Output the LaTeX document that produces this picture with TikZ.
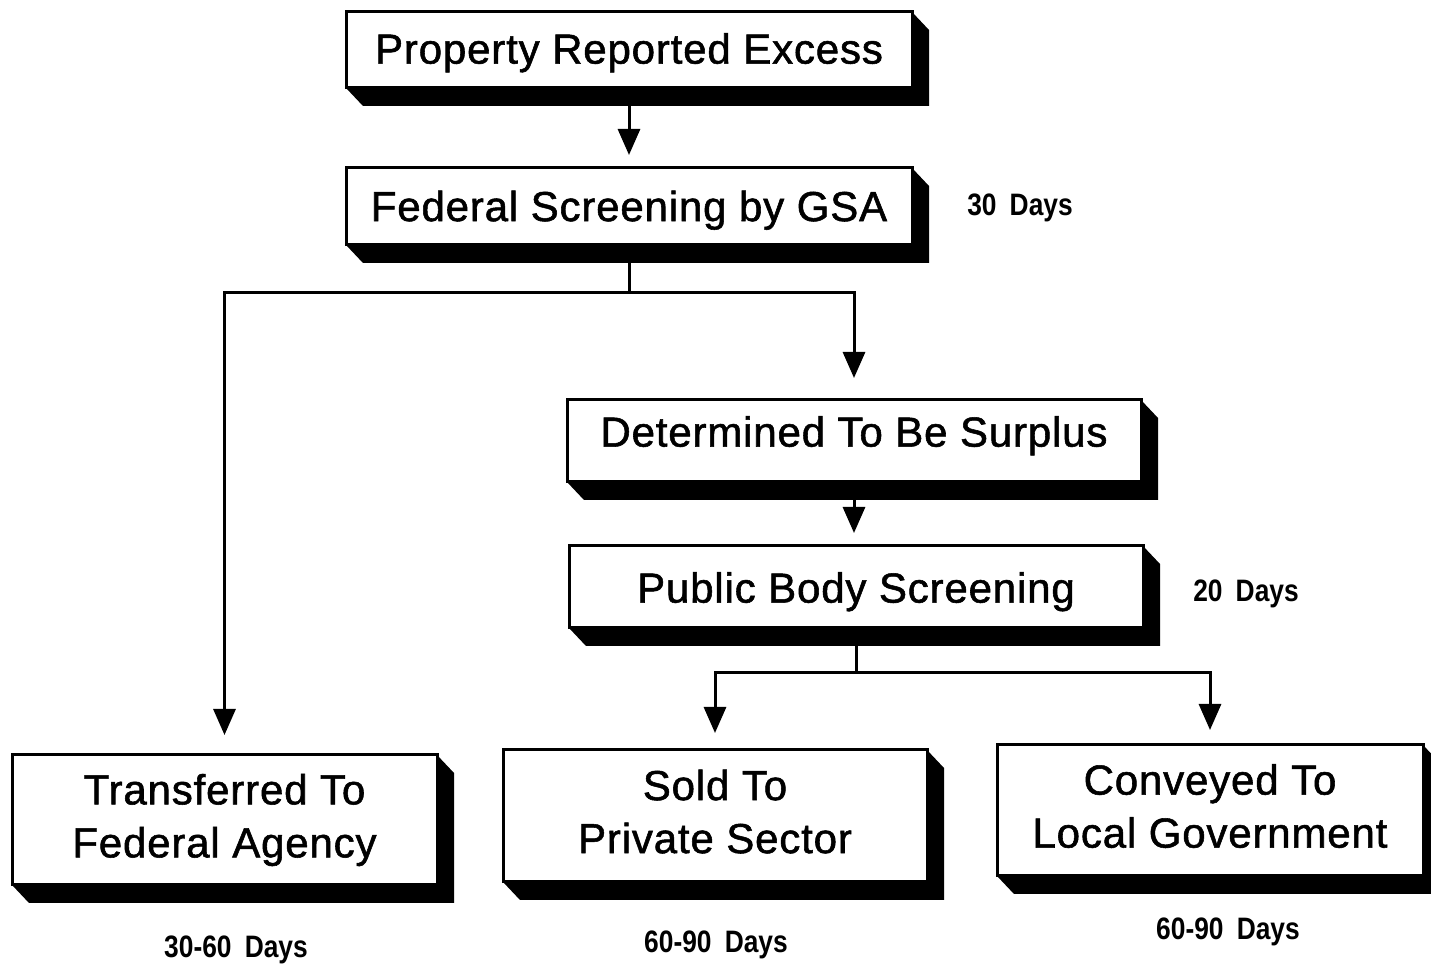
\documentclass[tikz,border=0pt]{standalone}
\usepackage{fontspec}
\usepackage{graphicx}
\setmainfont{Liberation Sans}
\newfontfamily\boxfont[FakeBold=1.3,LetterSpace=2]{Liberation Sans}
\usetikzlibrary{arrows.meta,calc}
\tikzset{
  flowbox/.style={draw=black, fill=white, line width=1.5pt, rectangle, inner sep=0pt, outer sep=0pt,
    align=center, font=\boxfont\fontsize{21}{26.5}\selectfont},
  shadowfill/.style={fill=black},
  link/.style={line width=1.5pt, draw=black},
  arr/.style={link, -{Triangle[length=13pt,width=11pt]}},
  dayslabel/.style={inner sep=0pt, font=\fontsize{15.5}{18}\selectfont\bfseries}
}
\newcommand{\days}[1]{\scalebox{0.85}[1]{#1}}
\newcommand{\shifttext}[2]{\raisebox{#1}[\height][\depth]{\begin{tabular}{@{}c@{}}#2\end{tabular}}}
\begin{document}
\begin{tikzpicture}[x=0.5pt,y=-0.5pt]
\useasboundingbox (0,0) rectangle (1431,967);
\fill[white] (0,0) rectangle (1431,967);

% boxes
\node[flowbox, minimum width=283pt, minimum height=38pt] (b1) at (629,50) {\shifttext{-1.5pt}{Property Reported Excess}};
\node[flowbox, minimum width=283pt, minimum height=38.5pt] (b2) at (629,206.5) {\shifttext{-2pt}{Federal Screening by GSA}};
\node[flowbox, minimum width=287pt, minimum height=41pt] (b3) at (854,441) {\shifttext{2.5pt}{Determined To Be Surplus}};
\node[flowbox, minimum width=287pt, minimum height=41pt] (b4) at (856,587) {\shifttext{-2.5pt}{Public Body Screening}};
\node[flowbox, minimum width=212.5pt, minimum height=65pt] (b5) at (224.5,820) {Transferred To\\Federal Agency};
\node[flowbox, minimum width=212pt, minimum height=66pt] (b6) at (715,816) {\shifttext{0pt}{Sold To\\Private Sector}};
\node[flowbox, minimum width=213pt, minimum height=65.5pt] (b7) at (1210,810.5) {\shifttext{0pt}{Conveyed To\\Local Government}};

% extruded shadows
\foreach \b in {b1,b2,b3,b4,b5,b6,b7}{
  \fill[shadowfill] (\b.south west) -- ++(17,18) -- ($(\b.south east)+(17,18)$) -- ($(\b.north east)+(17,18)$) -- (\b.north east) -- (\b.south east) -- cycle;
}

% labels
\node[dayslabel] (d1) at (1020,208) {\days{30\hspace{0.5em}Days}};
\node[dayslabel] (d2) at (1246,594) {\days{20\hspace{0.5em}Days}};
\node[dayslabel] (d3) at (236,950) {\days{30-60\hspace{0.5em}Days}};
\node[dayslabel] (d4) at (716,945) {\days{60-90\hspace{0.5em}Days}};
\node[dayslabel] (d5) at (1228,932) {\days{60-90\hspace{0.5em}Days}};

% connectors
\coordinate (j1) at (629,293);
\coordinate (j2) at (856,673);
\draw[arr, shorten >=6.5pt] (b1.south) -- (b2.north);
\draw[link] (b2.south) -- (j1);
\draw[arr, shorten >=11pt] (j1) -| (b3.north);
\draw[arr, shorten >=10pt] (j1) -| (b5.north);
\draw[arr, shorten >=6.5pt] (b3.south) -- (b3.south |- b4.north);
\draw[link] (b4.south) -- (j2);
\draw[arr, shorten >=8.5pt] (j2) -| (b6.north);
\draw[arr, shorten >=7.5pt] (j2) -| (b7.north);
\end{tikzpicture}
\end{document}
